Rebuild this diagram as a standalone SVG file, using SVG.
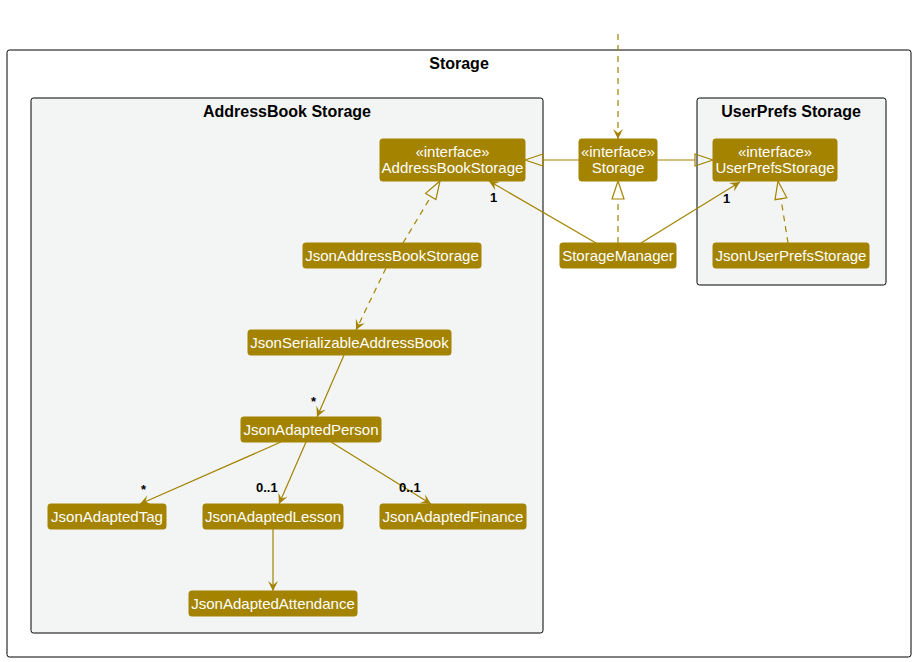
<svg xmlns="http://www.w3.org/2000/svg" width="915" height="662" viewBox="0 0 915 662">
<style>
.pkg{stroke:#000000;stroke-width:1}
.ptitle{font-family:"Liberation Sans",Arial,sans-serif;font-size:16px;font-weight:bold;fill:#000000;text-anchor:middle}
.node rect{fill:#A38300;stroke:#A38300;stroke-width:1}
.node text{font-family:"Liberation Sans",Arial,sans-serif;font-size:15px;fill:#FFFFFF;text-anchor:middle}
.e{stroke:#A38300;stroke-width:1.2;fill:none}
.d{stroke-dasharray:6,5}
.tri{stroke:#A38300;stroke-width:1.2;fill:none}
.lbl{font-family:"Liberation Sans",Arial,sans-serif;font-size:13px;font-weight:bold;fill:#000000}
</style>
<defs>
<marker id="arr" viewBox="0 0 12 12" refX="11" refY="6" markerWidth="12" markerHeight="12" markerUnits="userSpaceOnUse" orient="auto">
<path d="M11,6 L1,1 L5,6 L1,11 Z" fill="#A38300"/>
</marker>
</defs>
<rect width="915" height="662" fill="#FFFFFF"/>
<g id="pkg-storage">
<rect class="pkg" x="7" y="50" width="904" height="607" rx="2.5" fill="#FFFFFF"/>
<text class="ptitle" x="459" y="69">Storage</text>
</g>
<g id="pkg-addressbook">
<rect class="pkg" x="31" y="98" width="512" height="535" rx="2.5" fill="#F3F5F4"/>
<text class="ptitle" x="287" y="117">AddressBook Storage</text>
</g>
<g id="pkg-userprefs">
<rect class="pkg" x="697" y="98" width="189" height="187" rx="2.5" fill="#F3F5F4"/>
<text class="ptitle" x="791" y="117">UserPrefs Storage</text>
</g>
<g id="connectors">
<line class="e d" x1="618" y1="34" x2="618" y2="139" marker-end="url(#arr)"/>
<line class="e" x1="579" y1="160" x2="543" y2="160"/>
<polygon class="tri" points="525,160 543,154 543,166"/>
<line class="e" x1="657" y1="160" x2="695" y2="160"/>
<polygon class="tri" points="713,160 695,154 695,166"/>
<line class="e" x1="596" y1="243" x2="489" y2="181" marker-end="url(#arr)"/>
<text class="lbl" x="490" y="202">1</text>
<line class="e" x1="641" y1="243" x2="740" y2="182" marker-end="url(#arr)"/>
<text class="lbl" x="723" y="203">1</text>
<line class="e d" x1="618" y1="243" x2="618" y2="199"/>
<polygon class="tri" points="618,181 612,199 624,199"/>
<line class="e d" x1="788" y1="243" x2="781" y2="199"/>
<polygon class="tri" points="778,181 786.8,197.8 775,199.7"/>
<line class="e d" x1="403" y1="243" x2="431" y2="196.5"/>
<polygon class="tri" points="440,181 435.9,199.6 425.6,193.4"/>
<line class="e d" x1="386" y1="268" x2="356" y2="330" marker-end="url(#arr)"/>
<line class="e" x1="344" y1="355" x2="317" y2="417" marker-end="url(#arr)"/>
<text class="lbl" x="311" y="406">*</text>
<line class="e" x1="281" y1="442" x2="140" y2="504" marker-end="url(#arr)"/>
<text class="lbl" x="141" y="494">*</text>
<line class="e" x1="306" y1="442" x2="279" y2="504" marker-end="url(#arr)"/>
<text class="lbl" x="256" y="492">0..1</text>
<line class="e" x1="331" y1="442" x2="431" y2="504" marker-end="url(#arr)"/>
<text class="lbl" x="399" y="492">0..1</text>
<line class="e" x1="273" y1="529" x2="273" y2="591" marker-end="url(#arr)"/>
</g>
<g id="AddressBookStorage" class="node">
<rect x="380" y="139" width="145" height="42" rx="2.5"/>
<text x="452.5" y="157">«interface»</text>
<text x="452.5" y="173">AddressBookStorage</text>
</g>
<g id="StorageIface" class="node">
<rect x="579" y="139" width="78" height="42" rx="2.5"/>
<text x="618" y="157">«interface»</text>
<text x="618" y="173">Storage</text>
</g>
<g id="UserPrefsStorage" class="node">
<rect x="713" y="139" width="124" height="42" rx="2.5"/>
<text x="775" y="157">«interface»</text>
<text x="775" y="173">UserPrefsStorage</text>
</g>
<g id="StorageManager" class="node">
<rect x="560" y="243" width="116" height="25" rx="2.5"/>
<text x="618" y="261">StorageManager</text>
</g>
<g id="JsonUserPrefsStorage" class="node">
<rect x="713" y="243" width="156" height="25" rx="2.5"/>
<text x="791" y="261">JsonUserPrefsStorage</text>
</g>
<g id="JsonAddressBookStorage" class="node">
<rect x="303" y="243" width="178" height="25" rx="2.5"/>
<text x="392" y="261">JsonAddressBookStorage</text>
</g>
<g id="JsonSerializableAddressBook" class="node">
<rect x="248" y="330" width="203" height="25" rx="2.5"/>
<text x="349.5" y="348">JsonSerializableAddressBook</text>
</g>
<g id="JsonAdaptedPerson" class="node">
<rect x="241" y="417" width="140" height="25" rx="2.5"/>
<text x="311" y="435">JsonAdaptedPerson</text>
</g>
<g id="JsonAdaptedTag" class="node">
<rect x="48" y="504" width="118" height="25" rx="2.5"/>
<text x="107" y="522">JsonAdaptedTag</text>
</g>
<g id="JsonAdaptedLesson" class="node">
<rect x="203" y="504" width="140" height="25" rx="2.5"/>
<text x="273" y="522">JsonAdaptedLesson</text>
</g>
<g id="JsonAdaptedFinance" class="node">
<rect x="380" y="504" width="146" height="25" rx="2.5"/>
<text x="453" y="522">JsonAdaptedFinance</text>
</g>
<g id="JsonAdaptedAttendance" class="node">
<rect x="189" y="591" width="168" height="25" rx="2.5"/>
<text x="273" y="609">JsonAdaptedAttendance</text>
</g>
</svg>
